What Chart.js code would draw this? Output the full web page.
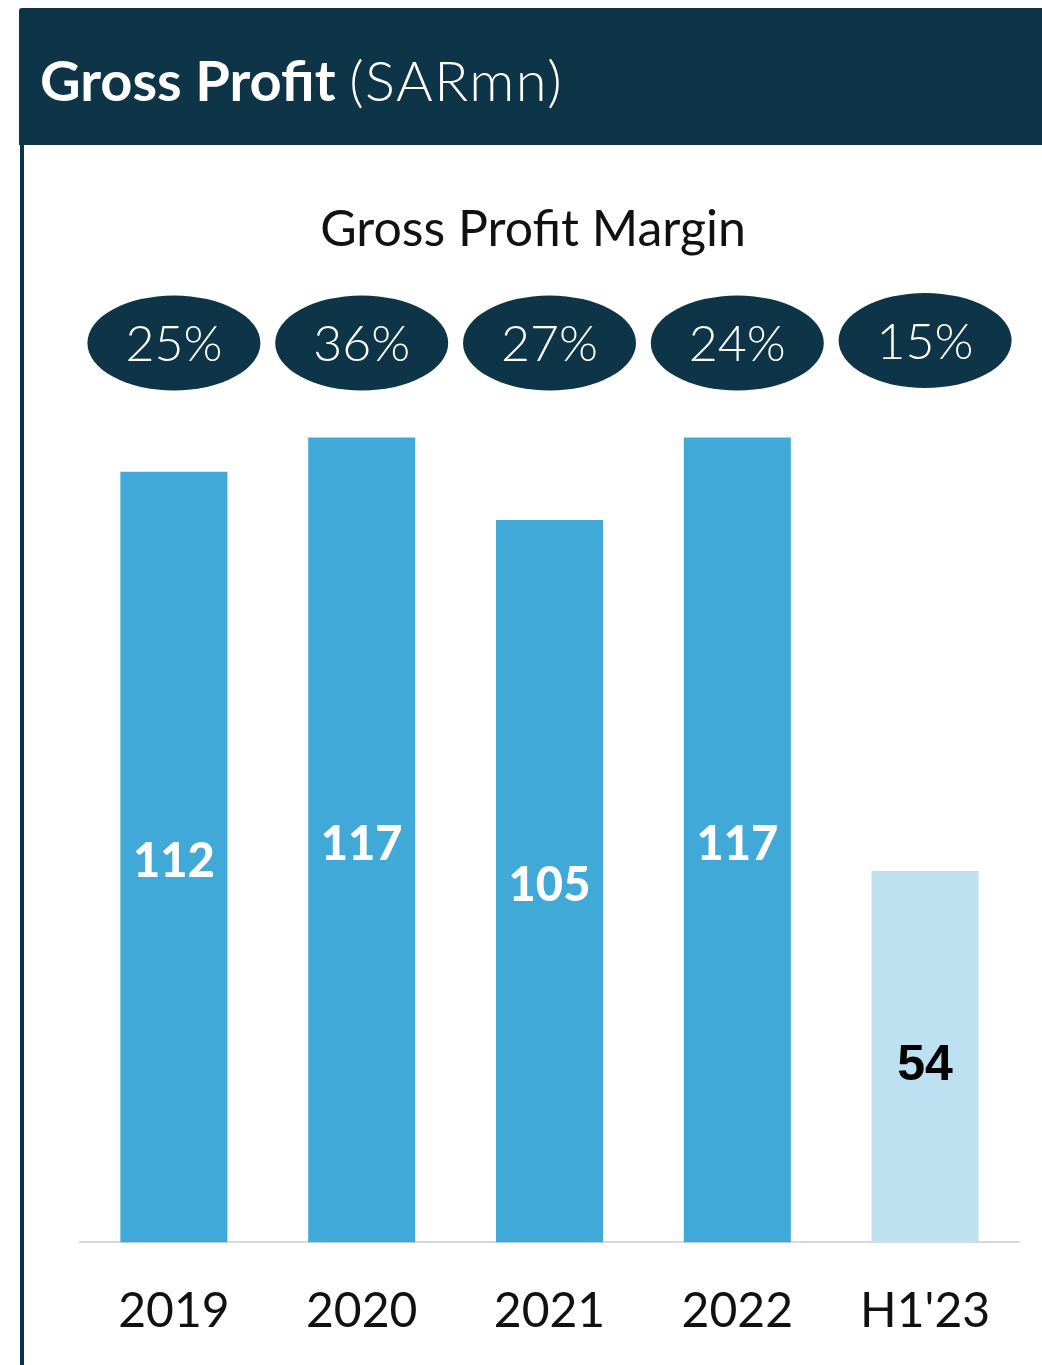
<!DOCTYPE html>
<html>
<head>
<meta charset="utf-8">
<script src="https://cdn.jsdelivr.net/npm/chart.js@4.4.0/dist/chart.umd.min.js"></script>
<style>
  body { margin: 0; background: #fff; width: 1042px; height: 1365px; position: relative; overflow: hidden; font-family: Lato, "Open Sans", sans-serif; }
  #header { position: absolute; left: 19px; top: 8px; width: 1023px; height: 137px; background: #0d3447; border-top-left-radius: 3px; }
  #header h1 { margin: 0; position: absolute; left: 21px; top: 41px; font-size: 56px; line-height: 62px; color: #fff; font-weight: 700; white-space: nowrap; }
  #header h1 span { font-weight: 300; letter-spacing: 1.5px; }
  #sideline { position: absolute; left: 20px; top: 145px; width: 4px; height: 1220px; background: #0d3447; }
  #subtitle { position: absolute; left: 0; width: 1066px; top: 197px; text-align: center; font-size: 50px; line-height: 60px; color: #111; font-weight: 400; }
  #chart { position: absolute; left: 0; top: 145px; }
</style>
</head>
<body>
<div id="header"><h1>Gross Profit <span>(SARmn)</span></h1></div>
<div id="sideline"></div>
<div id="subtitle">Gross Profit Margin</div>
<canvas id="chart" width="1042" height="1261"></canvas>
<script>
// ----------------------------
// Данные
// ----------------------------
const periods = ["2019", "2020", "2021", "2022", "H1'23"];
const grossProfit = [112, 117, 105, 117, 54];
const margins = ["25%", "36%", "27%", "24%", "15%"];

// цвета столбцов (последний — полугодие, светлее)
const barColors = ["#41a9d7", "#41a9d7", "#41a9d7", "#41a9d7", "#bee1f1"];
const labelColors = ["#fff", "#fff", "#fff", "#fff", "#000"];
const navy = "#0d3447";

// ----------------------------
// Овалы с маржой над столбцами
// ----------------------------
const marginBubbles = {
    id: "marginBubbles",
    afterDraw(chart) {
        const ctx = chart.ctx;
        const x = chart.scales.x;
        ctx.save();
        margins.forEach((m, i) => {
            const cx = x.getPixelForValue(i);
            const cy = i === 4 ? 195.5 : 198;
            ctx.beginPath();
            ctx.ellipse(cx, cy, 86.5, 47.5, 0, 0, Math.PI * 2);
            ctx.fillStyle = navy;
            ctx.fill();
            ctx.fillStyle = "#fff";
            ctx.font = "300 50px Lato";
            ctx.textAlign = "center";
            ctx.textBaseline = "middle";
            ctx.fillText(m, cx, cy + 2);
        });
        ctx.restore();
    }
};

// ----------------------------
// Значения внутри столбцов
// ----------------------------
const valueLabels = {
    id: "valueLabels",
    afterDatasetsDraw(chart) {
        const ctx = chart.ctx;
        const meta = chart.getDatasetMeta(0);
        ctx.save();
        ctx.textAlign = "center";
        ctx.textBaseline = "middle";
        meta.data.forEach((bar, i) => {
            const y = (bar.y + bar.base) / 2 + (i === 4 ? 10 : 5);
            ctx.fillStyle = labelColors[i];
            ctx.font = i === 4 ? "bold 50px 'Liberation Sans'" : "900 47px Lato";
            ctx.fillText(String(grossProfit[i]), bar.x, y);
        });
        ctx.restore();
    }
};

const ctx = document.getElementById("chart").getContext("2d");

new Chart(ctx, {
    type: "bar",
    data: {
        labels: periods,
        datasets: [{
            label: "Gross Profit",
            data: grossProfit,
            backgroundColor: barColors,
            borderWidth: 0,
            barPercentage: 0.57,
            categoryPercentage: 1.0
        }]
    },
    options: {
        responsive: false,
        animation: false,
        devicePixelRatio: 1,
        layout: {
            padding: { left: 80, right: 23, top: 203, bottom: 26 }
        },
        plugins: {
            legend: { display: false },
            tooltip: { enabled: false }
        },
        scales: {
            x: {
                grid: { display: false, drawTicks: false },
                border: { display: true, color: "#d9d9d9", width: 2 },
                ticks: {
                    color: "#111",
                    padding: 40,
                    font: { family: "Lato", size: 48 }
                }
            },
            y: {
                display: false,
                min: 0,
                max: 130
            }
        }
    },
    plugins: [marginBubbles, valueLabels]
});
</script>
</body>
</html>
